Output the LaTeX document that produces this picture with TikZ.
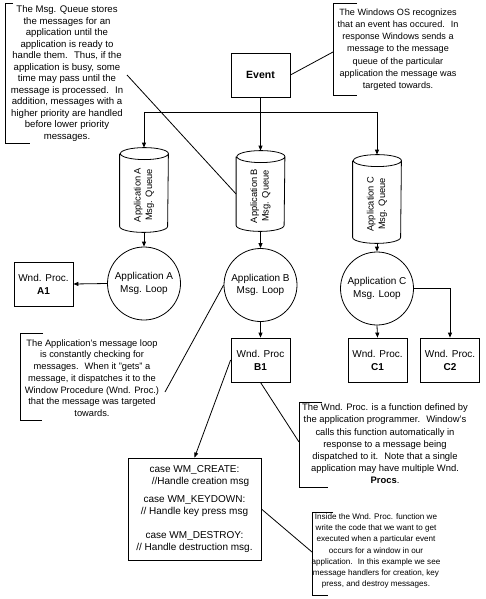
\documentclass[tikz,border=0pt]{standalone}
\usepackage{fontspec}
\usepackage{graphicx}
\setmainfont{Liberation Sans}
\usetikzlibrary{arrows.meta}
\newcommand\cylout[1]{%
  \draw ([yshift=6pt]#1.north west) -- (#1.south west)
    arc[start angle=180,end angle=360,x radius=24pt,y radius=6pt]
    -- ([yshift=6pt]#1.north east)
    arc[start angle=0,end angle=360,x radius=24pt,y radius=6pt];}
\newcommand\qtext[2]{\rotatebox{90}{\begin{tabular}{@{}c@{}}#1\\#2\end{tabular}\hspace*{4pt}}}
\begin{document}
\begin{tikzpicture}[x=1pt,y=-1pt,
  font=\fontsize{9.4}{11.7}\selectfont,
  line width=0.8pt,
  arr/.style={-{Triangle[length=5pt,width=4pt]}},
  box/.style={draw, minimum width=59pt, minimum height=44pt, inner sep=0pt, align=center,
    font=\fontsize{10}{13}\selectfont},
  queue/.style={rectangle, minimum width=48pt, inner sep=0pt,
    font=\fontsize{9.3}{11.5}\selectfont},
  loopc/.style={circle, draw, minimum size=73pt, inner sep=0pt, align=center,
    font=\fontsize{10}{12.5}\selectfont},
  note/.style={align=center, inner sep=0pt}]
\useasboundingbox (0,0) rectangle (485,599);

% main nodes
\node[box, font=\bfseries\fontsize{10.5}{13}\selectfont] (event) at (260.5,75) {Event};
\node[queue, minimum height=66pt] (qA) at (144,193) {\qtext{Application A}{Msg. Queue}};
\node[queue, minimum height=62pt] (qB) at (260.5,194) {\qtext{Application B}{Msg. Queue}};
\node[queue, minimum height=70pt] (qC) at (377,202) {\qtext{Application C}{Msg. Queue}};
\cylout{qA}
\cylout{qB}
\cylout{qC}
\node[loopc] (cA) at (144,283.5) {Application A\\Msg. Loop};
\node[loopc] (cB) at (260.5,285) {Application B\\Msg. Loop};
\node[loopc] (cC) at (377,288.5) {Application C\\Msg. Loop};
\node[box] (A1) at (43.5,284) {Wnd. Proc.\\\textbf{A1}};
\node[box] (B1) at (260.5,360) {Wnd. Proc\\\textbf{B1}};
\node[box] (C1) at (377.5,360) {Wnd. Proc.\\\textbf{C1}};
\node[box] (C2) at (450,360) {Wnd. Proc.\\\textbf{C2}};
\node[draw, minimum width=133pt, minimum height=102pt, inner sep=0pt, align=center,
  font=\fontsize{10}{11.5}\selectfont] (case) at (194.5,509)
  {case WM\_CREATE:\\\hspace{1.2em}//Handle creation msg\\[7pt]
   case WM\_KEYDOWN:\\// Handle key press msg\\[13pt]
   case WM\_DESTROY:\\// Handle destruction msg.};

% annotations
\node[note, font=\fontsize{9.6}{11.5}\selectfont] (n1) at (67,73.5)
  {The Msg. Queue stores\\the messages for an\\application until the\\application is ready to\\
   handle them.~ Thus, if the\\application is busy, some\\time may pass until the\\
   message is processed.~ In\\addition, messages with a\\higher priority are handled\\
   before lower priority\\messages.};
\draw (13,3) -- (5,3) -- (5,143) -- (30,143);

\node[note, font=\fontsize{9.1}{12.2}\selectfont] (n2) at (398,49.5)
  {The Windows OS recognizes\\that an event has occured.~ In\\response Windows sends a\\
   message to the message\\queue of the particular\\application the message was\\targeted towards.};
\draw (357,3) -- (333,3) -- (333,95) -- (357,95);

\node[note, font=\fontsize{9.3}{11.7}\selectfont] (n3) at (92,378)
  {The Application's message loop\\is constantly checking for\\messages.~ When it "gets" a\\
   message, it dispatches it to the\\Window Procedure (Wnd. Proc.)\\that the message was targeted\\towards.};
\draw (43,333) -- (20,333) -- (20,420) -- (42,420);

\node[note, font=\fontsize{9.4}{12.2}\selectfont] (n4) at (385,444)
  {The Wnd. Proc. is a function defined by\\the application programmer.~ Window's\\
   calls this function automatically in\\response to a message being\\
   dispatched to it.~ Note that a single\\application may have multiple Wnd.\\\textbf{Procs}.};
\draw (322,402) -- (299,402) -- (299,487) -- (328,487);

\node[note, font=\fontsize{8.1}{11.2}\selectfont] (n5) at (376,551)
  {Inside the Wnd. Proc. function we\\write the code that we want to get\\executed when a particular event\\
   occurs for a window in our\\application.~ In this example we see\\message handlers for creation, key\\
   press, and destroy messages.};
\draw (333,512) -- (312,512) -- (312,595) -- (328,595);

% connector end points
\coordinate (t1) at (127,75);
\coordinate (t2) at (333,52);
\coordinate (t3) at (165,392);
\coordinate (t4) at (299,442);
\coordinate (t5) at (312,552);
\coordinate (bA) at (144,112);
\coordinate (bB) at (260.5,112);
\coordinate (bC) at (377,112);

% connectors
\draw (event.south) -- (bB);
\draw (bA) -- (bC);
\draw[arr] (bA) -- ([yshift=12pt]qA.north);
\draw[arr] (bB) -- ([yshift=12pt]qB.north);
\draw[arr] (bC) -- ([yshift=12pt]qC.north);
\draw[arr] ([yshift=-6pt]qA.south) -- (cA.north);
\draw[arr] ([yshift=-6pt]qB.south) -- (cB.north);
\draw[arr] ([yshift=-6pt]qC.south) -- (cC.north);
\draw[arr] (cA.west) -- (A1.east);
\draw[arr] (cB.south) -- (B1.north);
\draw[arr] (cC.south) -- (C1.north);
\draw[arr] (cC.east) -| (C2.north);
\draw (event.east) -- (t2);
\draw (t1) -- (qB.west);
\draw (t3) -- (cB.west);
\draw[arr] (B1.west) -- (case.north);
\draw (B1.south) -- (t4);
\draw (case.east) -- (t5);
\end{tikzpicture}
\end{document}
